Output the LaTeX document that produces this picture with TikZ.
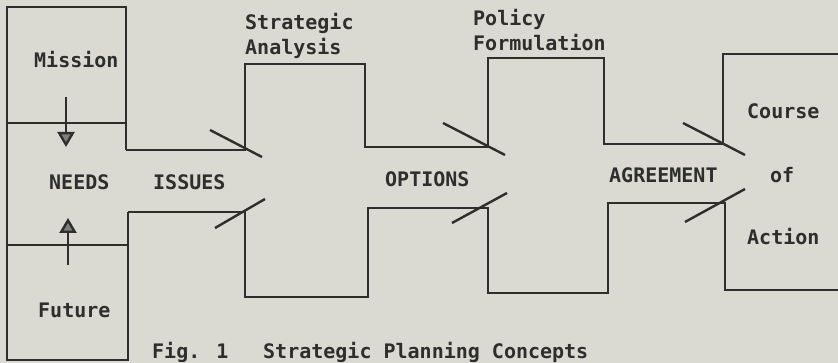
\documentclass[tikz,border=0pt]{standalone}
\usepackage{fontspec}
\newfontfamily\typer{DejaVu Sans Mono}[UprightFont={* Bold}]
\usetikzlibrary{arrows.meta,calc}
\definecolor{paper}{HTML}{DAD9D2}
\definecolor{ink}{HTML}{2E2E2C}
\begin{document}
\begin{tikzpicture}[x=1pt,y=-1pt,
  wall/.style={draw=ink,line width=2.4pt,line join=miter,line cap=butt},
  slash/.style={draw=ink,line width=2.4pt},
  label/.style={anchor=base west,inner sep=0pt,text=ink,font=\typer\fontsize{20}{22}\selectfont},
  flow/.style={draw=ink,line width=2.4pt,-{Triangle[length=15pt,width=17pt,fill=black!50]}}]
  % paper
  \fill[paper] (0,0) rectangle (838,363);
  \useasboundingbox (0,0) rectangle (838,363);
  \begin{scope}
  \clip (0,0) rectangle (838,363);

  % junction points where the channel passes between stages
  \coordinate (j1u) at (245,150);
  \coordinate (j1l) at (245,212);
  \coordinate (j2u) at (488,147);
  \coordinate (j2l) at (488,208);
  \coordinate (j3u) at (723,144);
  \coordinate (j3l) at (725,203);

  % left column: Mission / NEEDS / Future
  \draw[wall] (126,150) -- (126,7) -- (7,7) -- (7,360) -- (128,360) -- (128,212);
  \draw[wall] (7,123) -- (126,123);
  \draw[wall] (7,245) -- (128,245);

  % upper wall of the channel
  \draw[wall] (126,150) -- (j1u) -- (245,64) -- (365,64) -- (365,147)
    -- (j2u) -- (488,58) -- (604,58) -- (604,144) -- (j3u) -- (723,54) -- (840,54);
  % lower wall of the channel
  \draw[wall] (128,212) -- (j1l) -- (245,297) -- (368,297) -- (368,208)
    -- (j2l) -- (488,293) -- (608,293) -- (608,203) -- (j3l) -- (725,290) -- (840,290);

  % valve strokes at each narrowing
  \draw[slash] ($(j1u)+(-35,-20)$) -- ($(j1u)+(17,7)$);
  \draw[slash] ($(j1l)+(-30,16)$) -- ($(j1l)+(20,-13)$);
  \draw[slash] ($(j2u)+(-45,-24)$) -- ($(j2u)+(17,8)$);
  \draw[slash] ($(j2l)+(-36,15)$) -- ($(j2l)+(19,-15)$);
  \draw[slash] ($(j3u)+(-40,-21)$) -- ($(j3u)+(22,11)$);
  \draw[slash] ($(j3l)+(-40,19)$) -- ($(j3l)+(20,-14)$);

  % flows into NEEDS
  \coordinate (m0) at (66,97);
  \coordinate (m1) at (66,147);
  \coordinate (f0) at (68,265);
  \coordinate (f1) at (68,218);
  \draw[flow] (m0) -- (m1);
  \draw[flow] (f0) -- (f1);

  % labels
  \node[label] (mission) at (34,68) {Mission};
  \node[label] (needs) at (49,190) {NEEDS};
  \node[label] (future) at (38,317) {Future};
  \node[label] (issues) at (153,190) {ISSUES};
  \node[label] (sa1) at (245,30) {Strategic};
  \node[label] (sa2) at (245,55) {Analysis};
  \node[label] (pf1) at (473,26) {Policy};
  \node[label] (pf2) at (473,51) {Formulation};
  \node[label] (options) at (385,187) {OPTIONS};
  \node[label] (agree) at (609,183) {AGREEMENT};
  \node[label] (of) at (770,183) {of};
  \node[label] (course) at (747,119) {Course};
  \node[label] (action) at (747,245) {Action};
  \node[label] (fig) at (152,359) {Fig. 1};
  \node[label] (cap) at (263,359) {Strategic Planning Concepts};
  \end{scope}
\end{tikzpicture}
\end{document}
